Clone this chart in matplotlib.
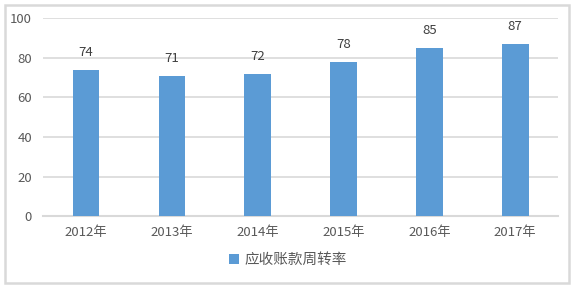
import matplotlib
matplotlib.use('Agg')
import matplotlib.pyplot as plt
import numpy as np
from matplotlib.patches import Rectangle

plt.rcParams['font.family'] = ['Noto Sans CJK SC', 'DejaVu Sans']

years = ['2012年', '2013年', '2014年', '2015年', '2016年', '2017年']
turnover = [74, 71, 72, 78, 85, 87]
series_name = '应收账款周转率'

bar_color = '#5b9bd5'
text_color = '#595959'
grid_color = '#d9d9d9'

fig = plt.figure(figsize=(5.76, 2.87), dpi=100)
ax = fig.add_axes([0.075, 0.247, 0.894, 0.690])

x = np.arange(len(years))
bars = ax.bar(x, turnover, width=0.31, color=bar_color, zorder=3, label=series_name)
for xi, v in zip(x, turnover):
    ax.text(xi, v + 5.5, str(v), ha='center', va='bottom', fontsize=9.5, color='#404040')

ax.set_xlim(-0.5, len(years) - 0.5)
ax.set_ylim(0, 100)
ax.set_yticks(range(0, 101, 20))
ax.set_xticks(x)
ax.set_xticklabels(years)
ax.tick_params(axis='both', length=0, labelsize=9.5, colors=text_color)
ax.tick_params(axis='x', pad=7)
ax.tick_params(axis='y', pad=8)
ax.grid(axis='y', color=grid_color, linewidth=1.2, zorder=0)
for s in ['top', 'right', 'left']:
    ax.spines[s].set_visible(False)
ax.spines['bottom'].set_color(grid_color)
ax.spines['bottom'].set_linewidth(1.5)

leg = fig.legend(loc='center', bbox_to_anchor=(0.5, 0.095), frameon=False,
                 fontsize=10.5, handlelength=0.7, handleheight=0.7, handletextpad=0.4)
for t in leg.get_texts():
    t.set_color(text_color)

fig.patches.append(Rectangle((0.009, 0.014), 0.978, 0.968, transform=fig.transFigure,
                             fill=False, edgecolor=grid_color, linewidth=1.8))

fig.savefig('out.png', dpi=100)
